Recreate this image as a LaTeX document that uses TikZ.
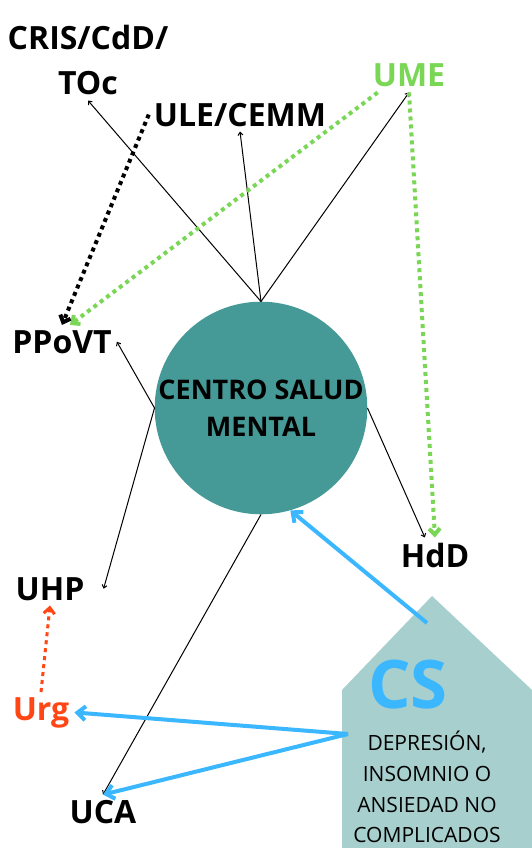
\documentclass[tikz,border=0pt]{standalone}
\usepackage{fontspec}
\setmainfont{Open Sans}
\usetikzlibrary{arrows.meta}

\definecolor{csmteal}{RGB}{69,154,151}
\definecolor{csblue}{RGB}{59,183,255}
\definecolor{umegreen}{RGB}{122,214,85}
\definecolor{urgred}{RGB}{255,70,20}
\definecolor{housegray}{RGB}{167,207,205}

\begin{document}
\begin{tikzpicture}[x=1pt,y=-1pt,
	lbl/.style={font=\fontsize{32}{36}\selectfont\bfseries, anchor=base, inner sep=5pt},
	thinarrow/.style={line width=1pt, -{Straight Barb[length=3pt,width=5pt]}},
	dotline/.style={line width=4pt, dash pattern=on 4pt off 4pt, -{Straight Barb[length=6pt,width=11pt]}},
	bluearrow/.style={csblue, line width=4pt, -{Straight Barb[length=8pt,width=14pt]}}]
	\useasboundingbox[fill=white] (0,0) rectangle (532,848);

	\fill[housegray] (342,690) -- (432,596) -- (532,690) -- (532,848) -- (342,848) -- cycle;
	\node[csblue, font=\fontsize{67}{70}\selectfont\bfseries, anchor=base, inner sep=0] (cs) at (408,708) {CS};
	\node[align=center, font=\fontsize{21}{30.7}\selectfont, inner sep=0] (cstext) at (427,787) {DEPRESIÓN,\\INSOMNIO O\\ANSIEDAD NO\\COMPLICADOS};
	\coordinate (cstop) at (427,623);
	\coordinate (csleft) at (348,734);

	\node[circle, fill=csmteal, minimum size=210pt, inner sep=0, align=center, font=\fontsize{27}{37}\selectfont\bfseries] (csm) at (261,408) {CENTRO SALUD\\MENTAL};

	\node[lbl] (cris) at (88,50) {CRIS/CdD/};
	\node[lbl] (toc) at (88,95) {TOc};
	\node[lbl] (ule) at (240,126) {ULE/CEMM};
	\node[lbl, umegreen] (ume) at (409,87) {UME};
	\node[lbl] (ppovt) at (62,353) {PPoVT};
	\node[lbl] (hdd) at (435,567) {HdD};
	\node[lbl] (uhp) at (50,600) {UHP};
	\node[lbl, urgred] (urg) at (41,720) {Urg};
	\node[lbl] (uca) at (103,823) {UCA};

	\draw[thinarrow] (csm.north) -- (toc.south);
	\draw[thinarrow] (csm.north) -- (ule.south);
	\draw[thinarrow] (csm.north) -- (ume.south);
	\draw[thinarrow] (csm.west) -- (ppovt.east);
	\draw[thinarrow] (csm.west) -- ([xshift=14pt]uhp.east);
	\draw[thinarrow] (csm.east) -- (hdd.120);
	\draw[thinarrow] (csm.south) -- (uca.north);

	\draw[dotline, umegreen] ([xshift=10pt]ume.south west) -- ([xshift=8pt]ppovt.north);
	\draw[dotline, umegreen] (ume.south) -- (hdd.north);
	\draw[dotline] (ule.west) -- (ppovt.north);
	\draw[dotline, urgred, line width=3pt] (urg.north) -- (uhp.south);

	\draw[bluearrow] (cstop) -- (csm.-74);
	\draw[bluearrow] (csleft) -- (urg.east);
	\draw[bluearrow] (csleft) -- (uca.north);
\end{tikzpicture}
\end{document}
